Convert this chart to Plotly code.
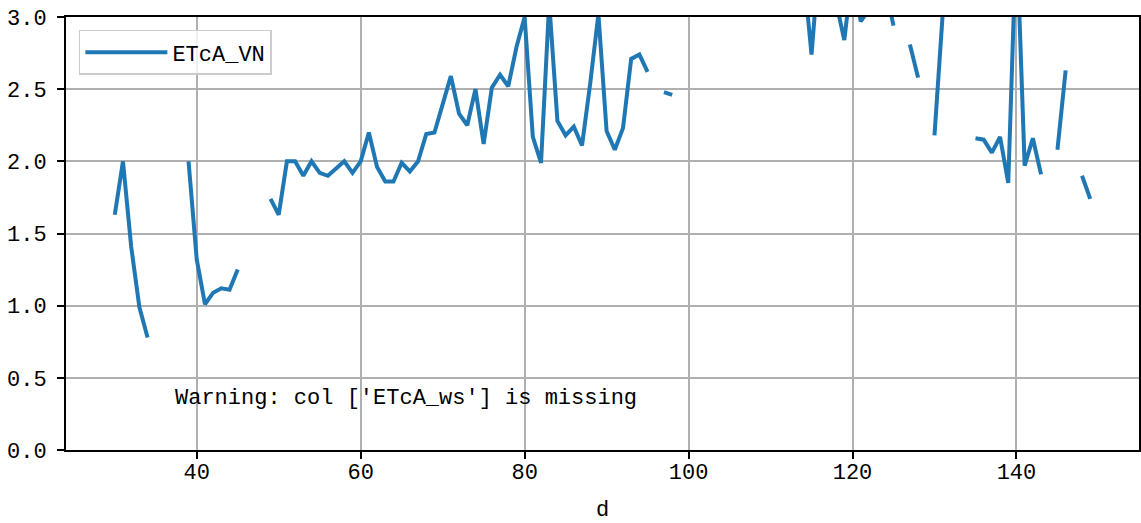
import plotly.graph_objects as go

N = None
days = list(range(30, 150))
etca_vn = [
    1.63, 2.00, 1.41, 0.99, 0.78,            # 30-34
    N, N, N, N,                               # 35-38
    2.00, 1.32, 1.01, 1.09, 1.12, 1.11, 1.25,  # 39-45
    N, N, N,                                  # 46-48
    1.74, 1.63, 2.00, 2.00, 1.90, 2.00, 1.92, 1.90, 1.95, 2.00, 1.92,  # 49-59
    2.00, 2.20, 1.96, 1.86, 1.86, 1.99, 1.93, 2.00, 2.19, 2.20,        # 60-69
    2.40, 2.59, 2.33, 2.25, 2.50, 2.12, 2.51, 2.60, 2.52, 2.79,        # 70-79
    3.00, 2.17, 1.99, 3.10, 2.28, 2.18, 2.24, 2.11, 2.54, 3.02,        # 80-89
    2.21, 2.08, 2.23, 2.71, 2.74, 2.62,      # 90-95
    N,                                        # 96
    2.48, 2.46,                               # 97-98
    N, N, N, N, N, N, N, N, N, N, N, N, N, N, N,  # 99-113
    3.33, 2.74, 3.45, 3.50, 3.10, 2.84, 3.33, 2.97, 3.05, 3.20, 3.20, 2.94,  # 114-125
    N,                                        # 126
    2.81, 2.58,                               # 127-128
    N,                                        # 129
    2.18, 3.02,                               # 130-131
    N, N, N,                                  # 132-134
    2.16, 2.15, 2.06, 2.17, 1.85, 3.60, 1.97, 2.16, 1.91,  # 135-143
    N,                                        # 144
    2.08, 2.63,                               # 145-146
    N,                                        # 147
    1.90, 1.74,                               # 148-149
]

series_name = "ETcA_VN"
x_label = "d"
warning_text = "Warning: col ['ETcA_ws'] is missing"
x_ticks = [40, 60, 80, 100, 120, 140]
y_ticks = [0.0, 0.5, 1.0, 1.5, 2.0, 2.5, 3.0]

FONT = "Liberation Mono, DejaVu Sans Mono, monospace"
FS = 22

fig = go.Figure()
fig.add_trace(go.Scatter(
    x=days, y=etca_vn, mode="lines", name=series_name,
    line=dict(color="#1f77b4", width=4),
    connectgaps=False,
))

fig.add_annotation(
    text=warning_text, xref="paper", yref="paper",
    x=0.1, y=0.12, xanchor="left", yanchor="middle",
    showarrow=False, font=dict(family=FONT, size=FS, color="black"),
)

axis_common = dict(
    showline=True, linecolor="black", linewidth=2, mirror=True,
    showgrid=True, gridcolor="#b0b0b0", gridwidth=2,
    ticks="outside", ticklen=7, tickwidth=2, tickcolor="black",
    zeroline=False, automargin=False,
    tickfont=dict(family=FONT, size=FS, color="black"),
)

fig.update_layout(
    width=1141, height=523,
    margin=dict(l=66, r=2, t=17, b=73),
    paper_bgcolor="white", plot_bgcolor="white",
    showlegend=True,
    legend=dict(
        x=0.012, y=0.97, xanchor="left", yanchor="top",
        bgcolor="rgba(255,255,255,0.8)", bordercolor="#cccccc", borderwidth=1.5,
        font=dict(family=FONT, size=FS, color="black"),
        itemwidth=82,
    ),
    xaxis=dict(
        range=[24.05, 154.95], tickvals=x_ticks,
        ticklabelstandoff=-6,
        title=dict(text=x_label, font=dict(family=FONT, size=FS, color="black"), standoff=19),
        **axis_common,
    ),
    yaxis=dict(
        range=[0, 3], tickvals=y_ticks, tickformat=".1f",
        ticklabelstandoff=6,
        **axis_common,
    ),
)

fig.write_html(
    "out.html",
    config={"displayModeBar": False},
    post_script="document.body.style.margin='0';document.body.style.padding='0';",
)
